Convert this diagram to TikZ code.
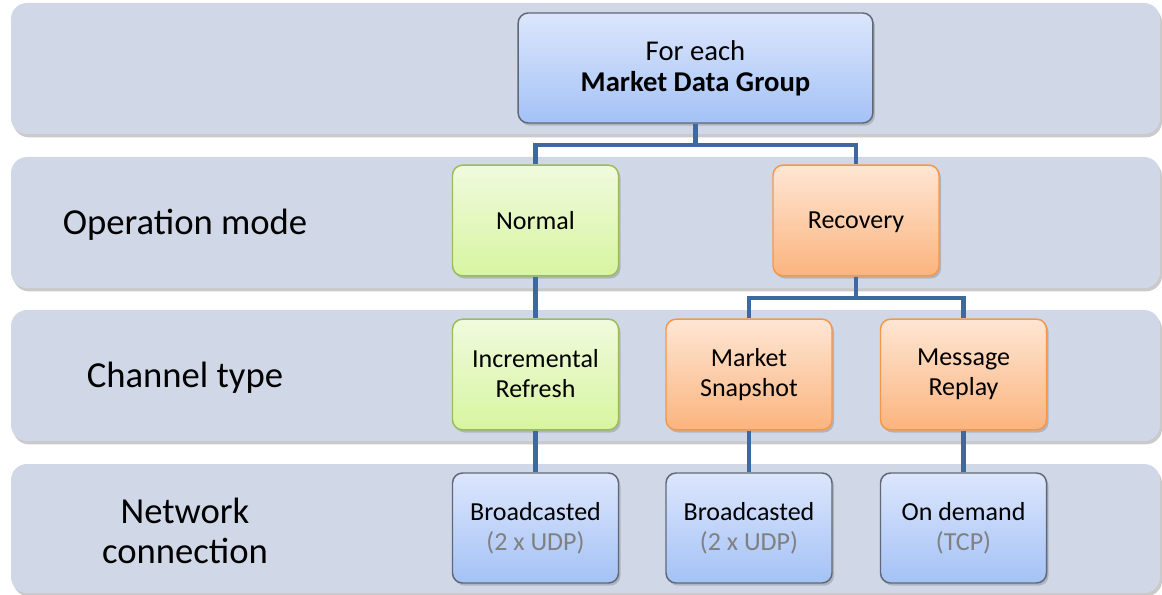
\documentclass[tikz,border=0pt]{standalone}
\usepackage{fontspec}
\setmainfont{Carlito}
\usetikzlibrary{shadows}

\definecolor{bandfill}{RGB}{208,216,231}
\definecolor{linkblue}{RGB}{63,104,160}
\definecolor{blueedge}{RGB}{96,104,118}
\definecolor{bluetop}{RGB}{220,230,252}
\definecolor{bluebot}{RGB}{164,194,246}
\definecolor{greenedge}{RGB}{155,187,89}
\definecolor{greentop}{RGB}{240,250,222}
\definecolor{greenbot}{RGB}{215,245,160}
\definecolor{orangeedge}{RGB}{247,150,70}
\definecolor{orangetop}{RGB}{254,230,212}
\definecolor{orangebot}{RGB}{251,180,126}
\definecolor{notegray}{RGB}{128,128,128}

\newcommand{\boxstrut}{\rule[-2pt]{0pt}{17pt}}

\tikzset{every picture/.style={line width=0.75pt}}

\begin{document}
\begin{tikzpicture}[x=0.75pt,y=0.75pt,yscale=-1,xscale=1,
  band/.style={fill=bandfill,rounded corners=12pt,
    drop shadow={shadow xshift=1.5pt,shadow yshift=-2.5pt,opacity=.35,fill=black!60}},
  box/.style={rounded corners=7.5pt,line width=1.1pt,inner sep=0pt,align=center,
    minimum width=124.5pt,minimum height=83pt,font=\fontsize{19.5}{22.5}\selectfont,
    execute at begin node=\boxstrut,execute at end node=\boxstrut,
    drop shadow={shadow xshift=1.5pt,shadow yshift=-2pt,opacity=.3,fill=black!60}},
  bluebox/.style={box,draw=blueedge,top color=bluetop,bottom color=bluebot},
  greenbox/.style={box,draw=greenedge,top color=greentop,bottom color=greenbot},
  orangebox/.style={box,draw=orangeedge,top color=orangetop,bottom color=orangebot},
  lbl/.style={align=center,inner sep=0.75pt,font=\fontsize{27.5}{30}\selectfont},
  link/.style={draw=linkblue,line width=3.6pt}]
\useasboundingbox (0,0) rectangle (1162,595);

%Shape: Rounded Rect [id:dp_band_group] 
\path [band] (11,3) rectangle (1160,134) ;
%Shape: Rounded Rect [id:dp_band_mode] 
\path [band] (11,157) rectangle (1160,288) ;
%Shape: Rounded Rect [id:dp_band_channel] 
\path [band] (11,310) rectangle (1160,441) ;
%Shape: Rounded Rect [id:dp_band_network] 
\path [band] (11,464) rectangle (1160,593) ;

% Text Node
\draw (185,225) node (lblmode) [lbl] {Operation mode};
% Text Node
\draw (185,378) node (lblchan) [lbl] {Channel type};
% Text Node
\draw (185,531) node (lblnet) [lbl] {Network\\connection};

%Shape: Rounded Rect [id:dp_group] 
\draw (695.5,68) node (grp) [bluebox,minimum width=266pt,minimum height=82.5pt,font=\fontsize{21.5}{23.5}\selectfont] {For each\\\textbf{Market Data Group}};

%Shape: Rounded Rect [id:dp_normal] 
\draw (535.5,220.5) node (normal) [greenbox] {Normal};
%Shape: Rounded Rect [id:dp_recovery] 
\draw (856,220.5) node (recov) [orangebox] {Recovery};

%Shape: Rounded Rect [id:dp_incr] 
\draw (535.5,374.5) node (incr) [greenbox] {Incremental\\Refresh};
%Shape: Rounded Rect [id:dp_snap] 
\draw (749,374.5) node (snap) [orangebox] {Market\\Snapshot};
%Shape: Rounded Rect [id:dp_replay] 
\draw (963.5,374.5) node (replay) [orangebox] {Message\\Replay};

%Shape: Rounded Rect [id:dp_udp1] 
\draw (535.5,528) node (udpa) [bluebox,minimum height=82.5pt] {Broadcasted\\\textcolor{notegray}{(2 x UDP)}};
%Shape: Rounded Rect [id:dp_udp2] 
\draw (749,528) node (udpb) [bluebox,minimum height=82.5pt] {Broadcasted\\\textcolor{notegray}{(2 x UDP)}};
%Shape: Rounded Rect [id:dp_tcp] 
\draw (963.5,528) node (tcp) [bluebox,minimum height=82.5pt] {On demand\\\textcolor{notegray}{(TCP)}};

%Straight Lines [id:da_group_split] 
\coordinate (jgrp) at (695.5,145);
\draw [link] (grp.south) -- (jgrp) -| (normal.north) ;
\draw [link] (jgrp) -| (recov.north) ;
%Straight Lines [id:da_normal_incr] 
\draw [link] (normal.south) -- (incr.north) ;
%Straight Lines [id:da_recov_split] 
\coordinate (jrec) at (856,298);
\draw [link] (recov.south) -- (jrec) -| (snap.north) ;
\draw [link] (jrec) -| (replay.north) ;
%Straight Lines [id:da_channel_net] 
\draw [link] (incr.south) -- (udpa.north) ;
\draw [link] (snap.south) -- (udpb.north) ;
\draw [link] (replay.south) -- (tcp.north) ;

\end{tikzpicture}
\end{document}
